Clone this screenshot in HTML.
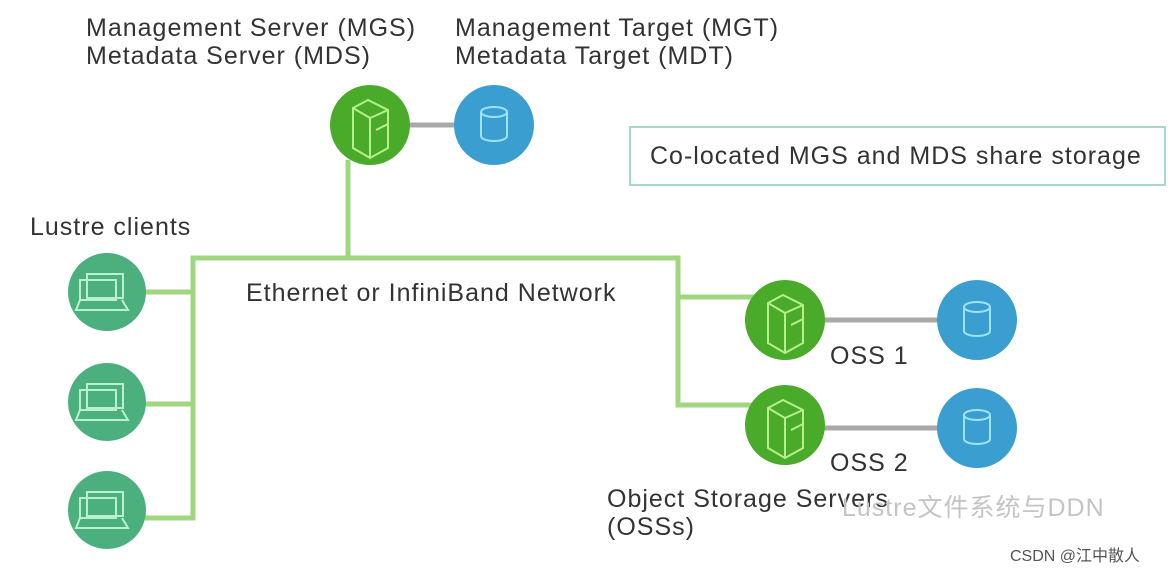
<!DOCTYPE html>
<html><head><style>
body{margin:0;background:#fff;}
.t{position:absolute;font-family:"Liberation Sans",sans-serif;font-size:25px;letter-spacing:1px;color:#333;white-space:nowrap;line-height:28px}
</style></head><body>
<div style="position:relative;width:1176px;height:576px;overflow:hidden">
<svg width="1176" height="576" style="position:absolute;left:0;top:0">
<g stroke="#9fd67f" stroke-width="5" fill="none">
<polyline points="348,160 348,258 193,258 193,518 145,518"/>
<line x1="145" y1="292" x2="193" y2="292"/>
<line x1="145" y1="404" x2="193" y2="404"/>
<polyline points="348,258 678,258 678,297 755,297"/>
<polyline points="678,297 678,405 755,405"/>
</g>
<g stroke="#a8a8a8" stroke-width="5">
<line x1="405" y1="125" x2="460" y2="125"/>
<line x1="820" y1="320" x2="940" y2="320"/>
<line x1="820" y1="428" x2="940" y2="428"/>
</g>
<g fill="#4aab2a">
<circle cx="370" cy="125" r="40"/><circle cx="785" cy="320" r="40"/><circle cx="785" cy="425" r="40"/>
</g>
<g fill="#3a9fd0">
<circle cx="494" cy="125" r="40"/><circle cx="977" cy="320" r="40"/><circle cx="977" cy="428" r="40"/>
</g>
<g fill="#4cb07e">
<circle cx="107" cy="292" r="39"/><circle cx="107" cy="402" r="39"/><circle cx="107" cy="510" r="39"/>
</g>
<g stroke="#b5f08a" stroke-width="2" fill="none">
<g id="srv"><path d="M353,108 l15,-8 l20,10 l0,38 l-18,10 l-17,-10 z M353,108 l17,10 l18,-8 M370,118 v40 M376,130 l12,-6"/></g>
<use href="#srv" x="415" y="195"/><use href="#srv" x="415" y="300"/>
</g>
<g stroke="#9fe3f5" stroke-width="2" fill="none">
<g id="db"><ellipse cx="494" cy="112" rx="13" ry="5"/><path d="M481,112 v24 a13,5 0 0 0 26,0 v-24"/></g>
<use href="#db" x="483" y="195"/><use href="#db" x="483" y="303"/>
</g>
<g stroke="#b8f0d0" stroke-width="2" fill="none">
<g id="lp"><rect x="87" y="274" width="36" height="24"/><rect x="80" y="280" width="36" height="20"/><path d="M80,300 l-4,10 h52 l-6,-10"/></g>
<use href="#lp" y="110"/><use href="#lp" y="218"/>
</g>
<rect x="630" y="127" width="535" height="58" fill="none" stroke="#a8d8cc" stroke-width="2"/>
</svg>
<div class="t" style="left:86px;top:14px">Management Server (MGS)<br>Metadata Server (MDS)</div>
<div class="t" style="left:455px;top:14px">Management Target (MGT)<br>Metadata Target (MDT)</div>
<div class="t" style="left:650px;top:142px">Co-located MGS and MDS share storage</div>
<div class="t" style="left:30px;top:213px">Lustre clients</div>
<div class="t" style="left:246px;top:279px">Ethernet or InfiniBand Network</div>
<div class="t" style="left:830px;top:342px">OSS 1</div>
<div class="t" style="left:830px;top:449px">OSS 2</div>
<div class="t" style="left:607px;top:485px">Object Storage Servers<br>(OSSs)</div>
<div class="t" style="left:842px;top:494px;color:#c4c4c4;font-family:'Liberation Sans','Noto Sans CJK SC',sans-serif">Lustre文件系统与DDN</div>
<div class="t" style="left:1010px;top:543px;font-size:16px;letter-spacing:0;color:#555;font-family:'Liberation Sans','Noto Sans CJK SC',sans-serif">CSDN @江中散人</div>
</div>
</body></html>
